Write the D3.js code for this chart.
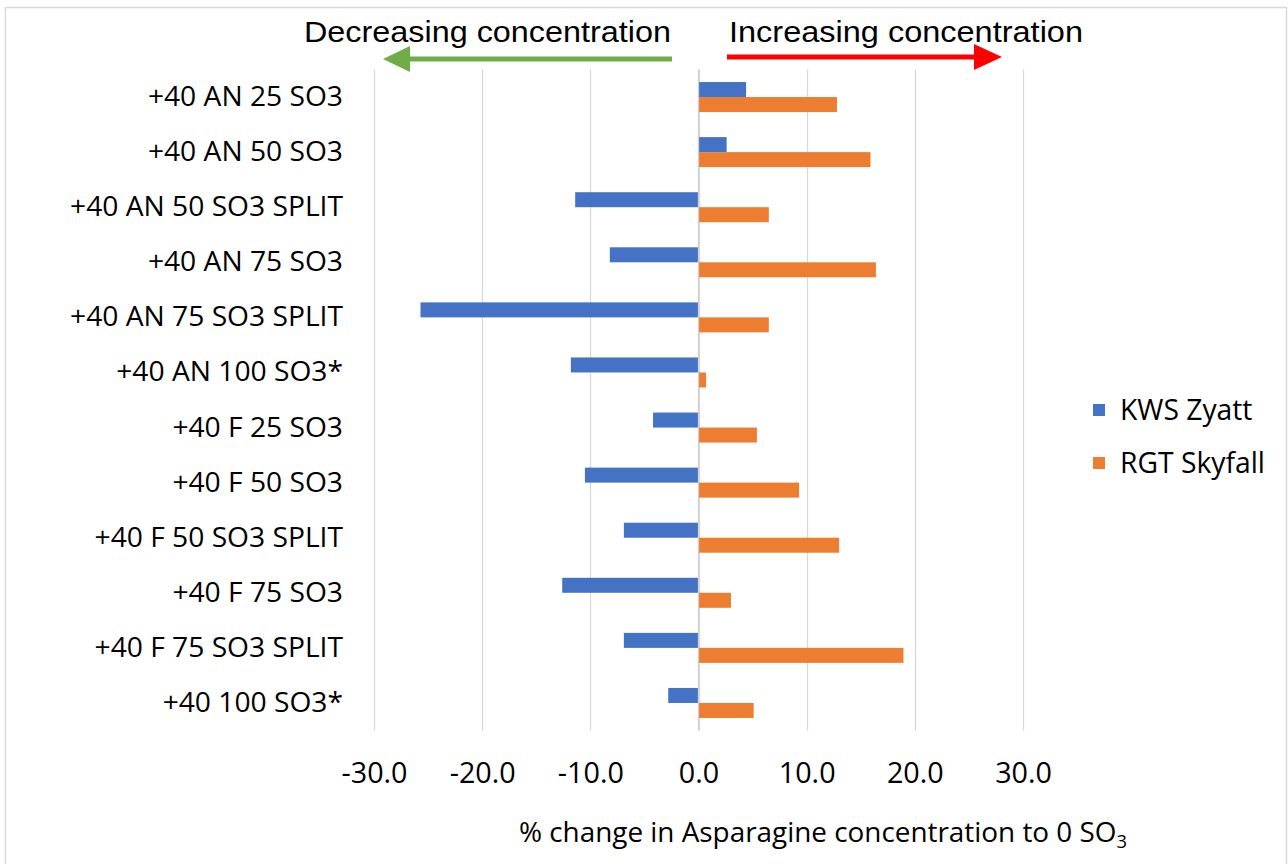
<!DOCTYPE html>
<html><head><meta charset="utf-8">
<script src="https://cdn.jsdelivr.net/npm/d3@7"></script>
<style>body{margin:0;background:#fff}svg{display:block}</style>
</head><body>
<script>
const categories = ["+40 AN 25 SO3","+40 AN 50 SO3","+40 AN 50 SO3 SPLIT","+40 AN 75 SO3","+40 AN 75 SO3 SPLIT","+40 AN 100 SO3*","+40 F 25 SO3","+40 F 50 SO3","+40 F 50 SO3 SPLIT","+40 F 75 SO3","+40 F 75 SO3 SPLIT","+40 100 SO3*"];
const seriesNames = ["KWS Zyatt","RGT Skyfall"];
const kwsZyatt = [4.4, 2.6, -11.4, -8.2, -25.7, -11.8, -4.2, -10.5, -6.9, -12.6, -6.9, -2.8];
const rgtSkyfall = [12.8, 15.9, 6.5, 16.4, 6.5, 0.7, 5.4, 9.3, 13.0, 3.0, 18.95, 5.1];
const xTicks = [-30, -20, -10, 0, 10, 20, 30];
const colors = ["#4472C4", "#ED7D31"];

const W = 1288, H = 864;
const svg = d3.select("body").append("svg").attr("width", W).attr("height", H);
const calibri = "'Open Sans', Lato, sans-serif";

// fit font size of a selection so that the widest text matches target width
function fitFont(sel, target) {
  sel.attr("font-size", 24);
  let maxW = 0;
  sel.each(function(){ maxW = Math.max(maxW, this.getComputedTextLength()); });
  const fs = 24 * target / maxW;
  sel.attr("font-size", fs);
  return fs;
}

// chart border
svg.append("rect").attr("x", 5.5).attr("y", 7.5).attr("width", 1281).attr("height", 870)
  .attr("fill", "none").attr("stroke", "#d9d9d9").attr("stroke-width", 1.5);

const x = d3.scaleLinear().domain([-30, 30]).range([374, 1023]);
const y = d3.scaleBand().domain(categories).range([69.5, 730.5]).padding(0);
const inner = d3.scaleBand().domain(seriesNames).range([y.bandwidth()/2 - 15, y.bandwidth()/2 + 15]).padding(0);

// gridlines
svg.append("g").selectAll("line").data(xTicks).join("line")
  .attr("x1", d => Math.round(x(d)) + 0.5).attr("x2", d => Math.round(x(d)) + 0.5)
  .attr("y1", 69.5).attr("y2", 730.5)
  .attr("stroke", "#d9d9d9").attr("stroke-width", 1.3);

// tick labels via axis
const xAxis = d3.axisBottom(x).tickValues(xTicks).tickFormat(d => d.toFixed(1)).tickSize(0).tickPadding(0);
const gx = svg.append("g").attr("transform", "translate(0,773)").call(xAxis);
gx.select(".domain").remove();
const tickTexts = gx.selectAll("text").attr("font-family", calibri).attr("fill", "#000").attr("dy", "0.35em");
fitFont(tickTexts, 66);

// bars
const rows = categories.map((c, i) => ({c, vals: [kwsZyatt[i], rgtSkyfall[i]]}));
const gRow = svg.append("g").selectAll("g").data(rows).join("g")
  .attr("transform", d => `translate(0,${y(d.c)})`);
gRow.selectAll("rect").data(d => d.vals.map((v, j) => ({v, s: seriesNames[j], j}))).join("rect")
  .attr("x", d => x(Math.min(0, d.v)))
  .attr("width", d => Math.abs(x(d.v) - x(0)))
  .attr("y", d => inner(d.s))
  .attr("height", inner.bandwidth())
  .attr("fill", d => colors[d.j]);

// zero axis line
svg.append("line").attr("x1", x(0)).attr("x2", x(0)).attr("y1", 69.5).attr("y2", 730.5)
  .attr("stroke", "#d0d0d0").attr("stroke-width", 1.3);

// category labels
const yAxis = d3.axisLeft(y).tickSize(0).tickPadding(0);
const gy = svg.append("g").attr("transform", "translate(343,0)").call(yAxis);
gy.select(".domain").remove();
const catTexts = gy.selectAll("text").attr("font-family", calibri).attr("fill", "#000");
fitFont(catTexts, 273);

// legend
const leg = svg.append("g").attr("transform", "translate(1093,0)");
seriesNames.forEach((s, i) => {
  const cy = 410 + i * 53;
  leg.append("rect").attr("x", 0).attr("y", cy - 6).attr("width", 12).attr("height", 12).attr("fill", colors[i]);
  leg.append("text").attr("class", "legtxt").attr("x", 27).attr("y", cy).attr("dy", "0.35em")
    .attr("font-family", calibri).text(s);
});
fitFont(leg.selectAll(".legtxt"), 145);

// axis title
const title = svg.append("text").attr("x", 823).attr("y", 832).attr("dy", "0.35em")
  .attr("text-anchor", "middle").attr("font-family", calibri);
title.append("tspan").attr("class", "main").text("% change in Asparagine concentration to 0 SO");
title.append("tspan").attr("class", "sub").attr("dy", "0.35em").text("3");
title.attr("font-size", 24);
const tw = title.node().getComputedTextLength();
const tfs = 24 * 614 / tw;
title.attr("font-size", tfs);
title.select(".sub").attr("font-size", tfs * 0.66);

// header texts
svg.append("text").attr("x", 304).attr("y", 42).attr("font-family", "'Liberation Sans', Arial, sans-serif")
  .attr("font-size", 30).attr("textLength", 367).attr("lengthAdjust", "spacingAndGlyphs").text("Decreasing concentration");
svg.append("text").attr("x", 729).attr("y", 42).attr("font-family", "'Liberation Sans', Arial, sans-serif")
  .attr("font-size", 30).attr("textLength", 354).attr("lengthAdjust", "spacingAndGlyphs").text("Increasing concentration");

// arrows
svg.append("path").attr("d", "M672,56.5 L410,56.5 L410,46 L383,59 L410,72 L410,61.5 L672,61.5 Z").attr("fill", "#70AD47");
svg.append("path").attr("d", "M727,54.5 L974,54.5 L974,44 L1002,57 L974,70 L974,59.5 L727,59.5 Z").attr("fill", "#FF0000");
</script>
</body></html>
